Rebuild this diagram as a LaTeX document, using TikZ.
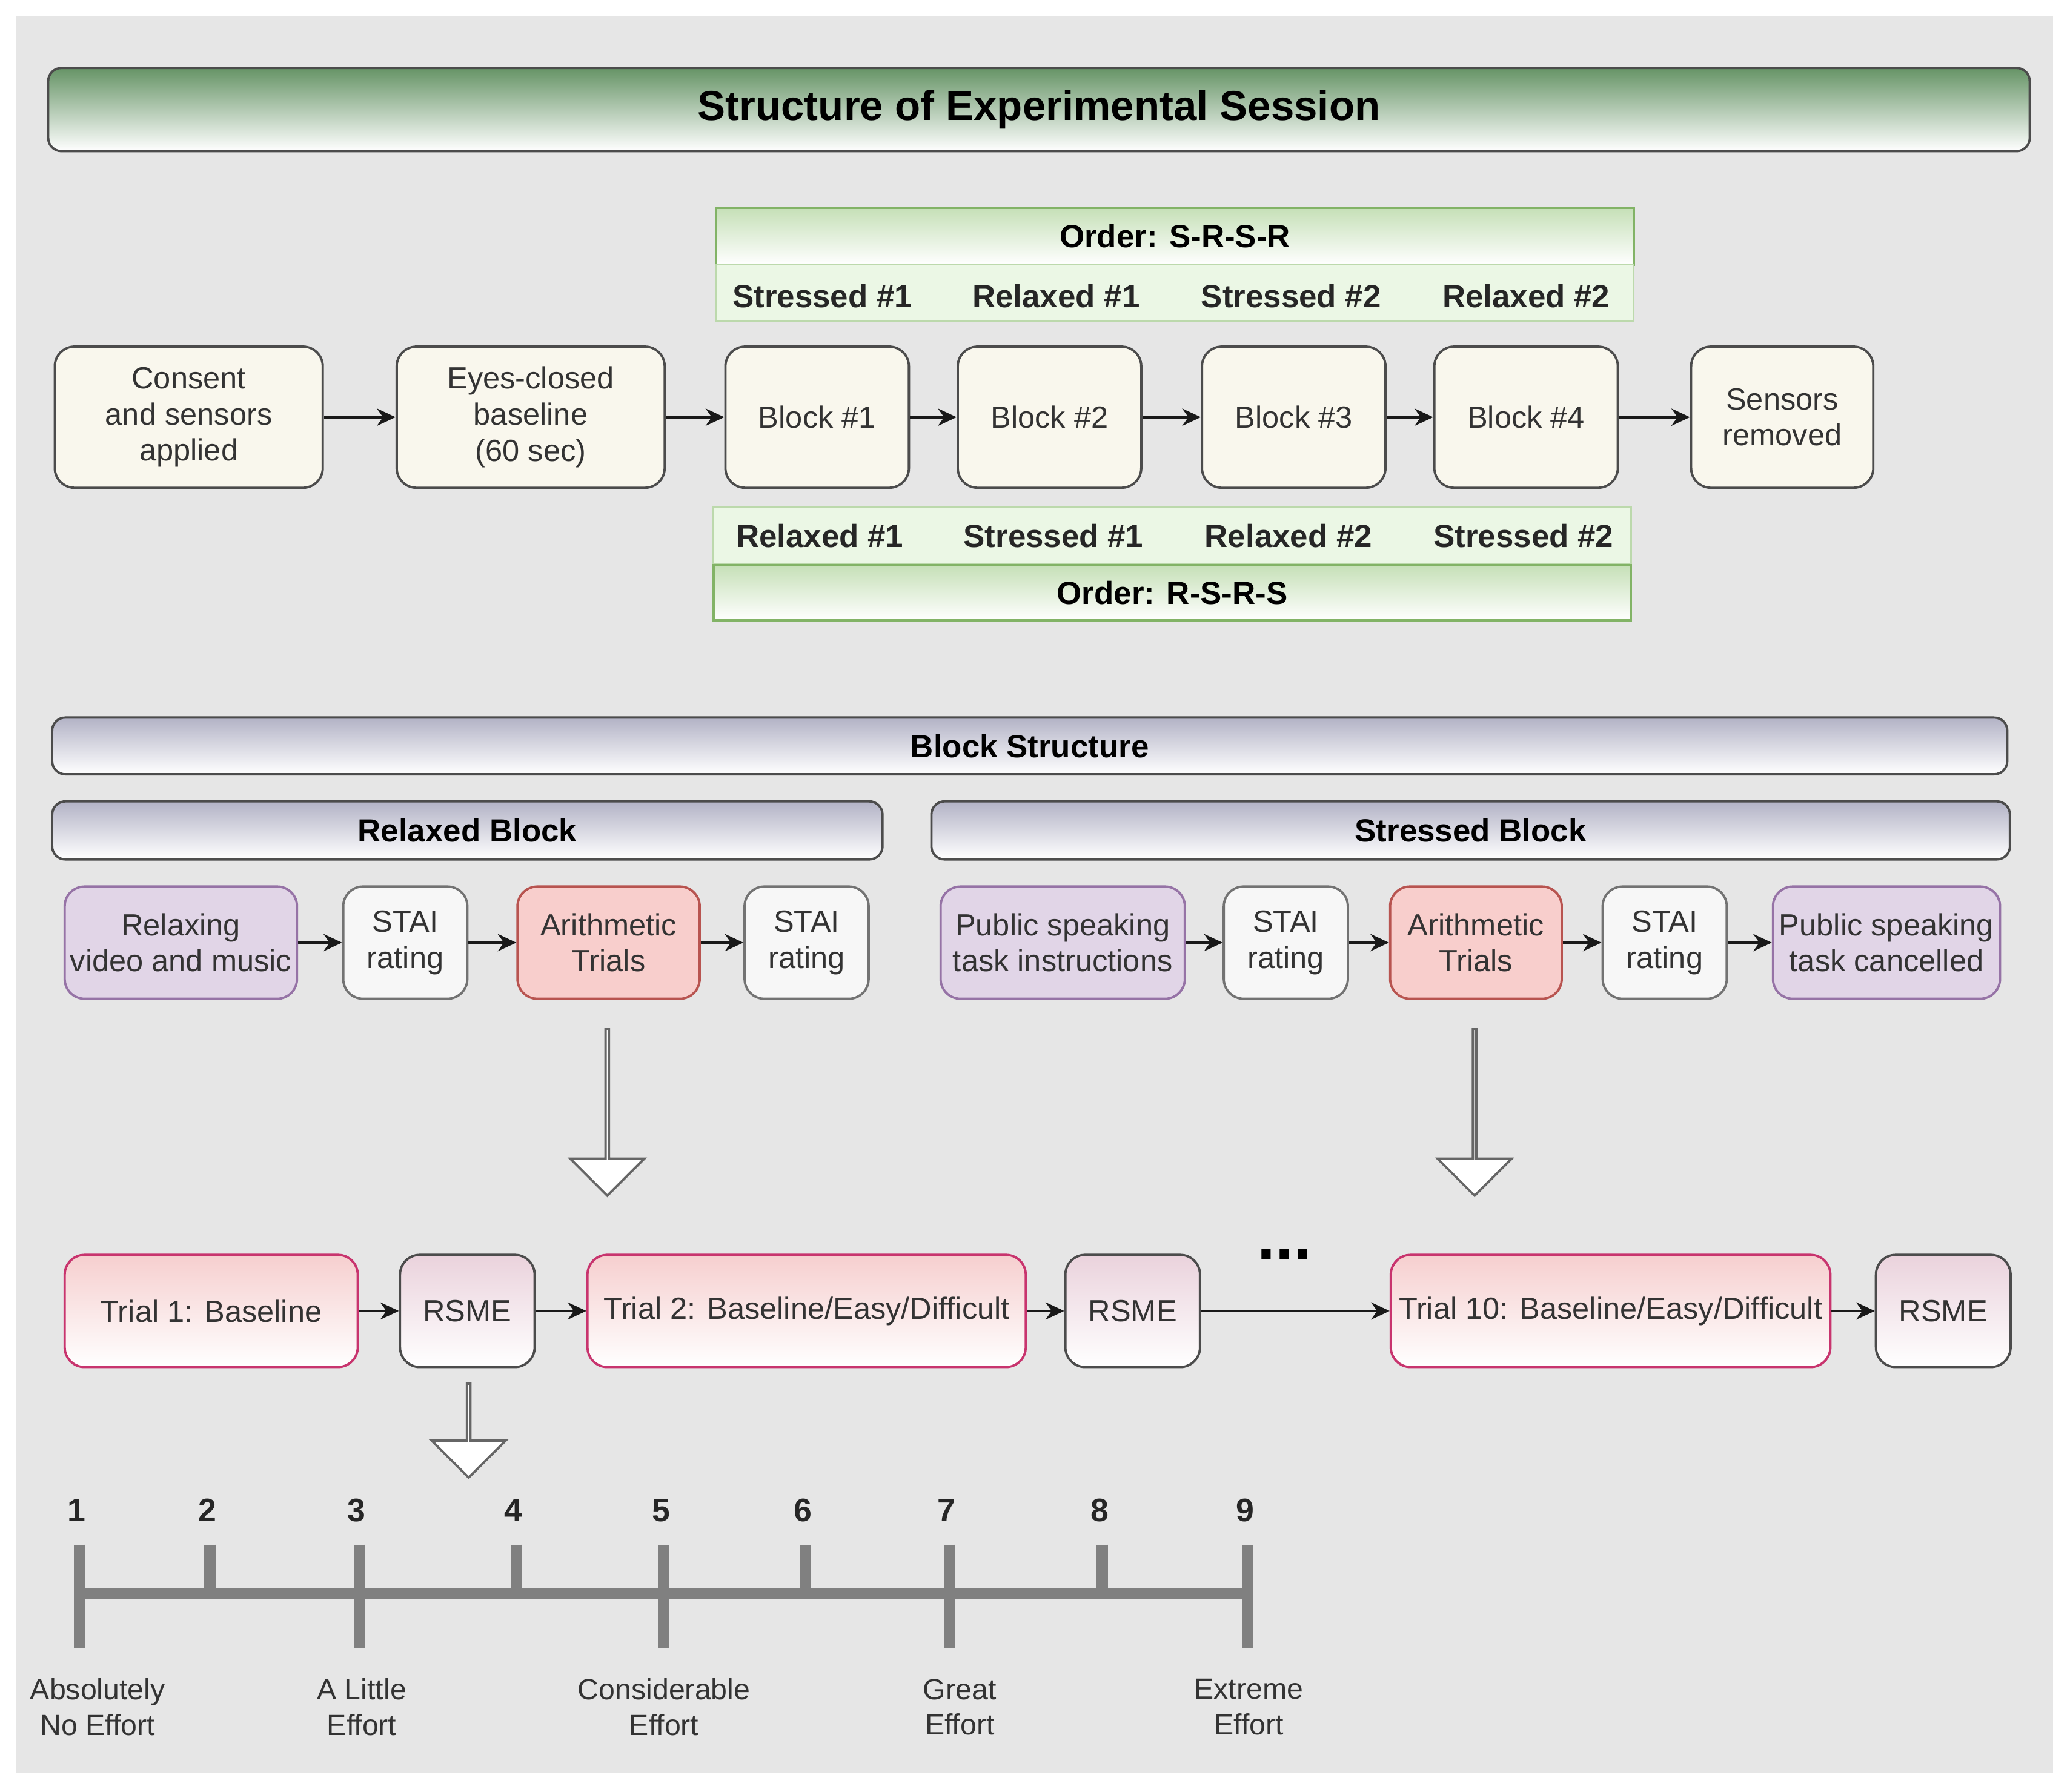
\documentclass[tikz,border=0pt]{standalone}
\usepackage{fontspec}
\setmainfont{Liberation Sans}
\usetikzlibrary{arrows.meta,shapes.arrows}
\definecolor{bg}{HTML}{E6E6E6}
\definecolor{cream}{HTML}{F9F7ED}
\definecolor{purp}{HTML}{E1D5E7}
\definecolor{purpb}{HTML}{9673A6}
\definecolor{redf}{HTML}{F8CECC}
\definecolor{redb}{HTML}{B85450}
\definecolor{lgreen}{HTML}{E3F3DA}
\definecolor{lgreenb}{HTML}{82B366}
\definecolor{crim}{HTML}{C8346E}
\begin{document}
\begin{tikzpicture}[x=0.01cm,y=-0.01cm,
 w/.style={minimum width=#1*0.01cm},
 h/.style={minimum height=#1*0.01cm},
 txt/.style={font=\fontsize{6.6pt}{7.8pt}\selectfont,text=black!80,align=center},
 bx/.style={txt,draw=black!70,rounded corners=1.5mm,line width=0.5pt,inner sep=0pt},
 stp/.style={bx,fill=cream},
 pur/.style={bx,fill=purp,draw=purpb},
 wht/.style={bx,fill=black!3,draw=black!55},
 ari/.style={bx,fill=redf,draw=redb},
 tri/.style={bx,draw=crim,top color=redf!90!purp,bottom color=white},
 rsm/.style={bx,draw=black!70,top color=purp!60!redf,bottom color=white},
 lab/.style={font=\bfseries\fontsize{6.9pt}{8pt}\selectfont,text=black!85},
 gbar/.style={draw=lgreenb,line width=0.5pt,top color=lgreen!70!lgreenb,bottom color=white,inner sep=0pt,font=\bfseries\fontsize{6.9pt}{8pt}\selectfont},
 bbar/.style={draw=black!70,line width=0.5pt,rounded corners=1mm,top color=blue!25!black!30,bottom color=white,inner sep=0pt,font=\bfseries\fontsize{6.9pt}{8pt}\selectfont},
 ar/.style={-{Stealth[length=1.4mm,width=1.3mm]},line width=0.6pt,black!90},
 hollow/.style={single arrow,draw=black!60,fill=white,shape border rotate=270,line width=0.5pt,inner sep=0pt},
 scl/.style={line width=2.4pt,black!50},
 num/.style={font=\bfseries\fontsize{7pt}{8pt}\selectfont,text=black!85},
 elab/.style={txt,font=\fontsize{6.3pt}{7.6pt}\selectfont}]
\useasboundingbox (0,0) rectangle (1568,1357);
\fill[bg] (12,12) rectangle (1555,1343);
% title
\node[draw=black!70,rounded corners=1mm,line width=0.5pt,top color=green!30!black!60,bottom color=white,w=1501,h=63,inner sep=0pt,font=\bfseries\fontsize{9pt}{10pt}\selectfont] (title) at (787,83) {Structure of Experimental Session};
% order boxes
\node[gbar,w=695,h=43] (o1) at (890,179) {Order: S-R-S-R};
\node[draw=lgreen!60!lgreenb,fill=lgreen!70,w=695,h=43,inner sep=0pt] (r1) at (890,222) {};
\node[lab] (l1) at (623,224) {Stressed \#1};
\node[lab] (l2) at (800,224) {Relaxed \#1};
\node[lab] (l3) at (978,224) {Stressed \#2};
\node[lab] (l4) at (1156,224) {Relaxed \#2};
\node[draw=lgreen!60!lgreenb,fill=lgreen!70,w=695,h=43,inner sep=0pt] (r2) at (888,406) {};
\node[lab] (m1) at (621,406) {Relaxed \#1};
\node[lab] (m2) at (798,406) {Stressed \#1};
\node[lab] (m3) at (976,406) {Relaxed \#2};
\node[lab] (m4) at (1154,406) {Stressed \#2};
\node[gbar,w=695,h=42] (o2) at (888,449) {Order: R-S-R-S};
% steps
\node[stp,w=203,h=107] (c) at (143,316) {Consent\\and sensors\\applied};
\node[stp,w=203,h=107] (e) at (402,316) {Eyes-closed\\baseline\\(60 sec)};
\node[stp,w=139,h=107] (b1) at (619,316) {Block \#1};
\node[stp,w=139,h=107] (b2) at (795,316) {Block \#2};
\node[stp,w=139,h=107] (b3) at (980,316) {Block \#3};
\node[stp,w=139,h=107] (b4) at (1156,316) {Block \#4};
\node[stp,w=138,h=107] (s) at (1350,316) {Sensors\\removed};
\foreach \a/\b in {c/e,e/b1,b1/b2,b2/b3,b3/b4,b4/s} \draw[ar] (\a) -- (\b);
% block structure
\node[bbar,w=1481,h=43] (bs) at (780,565) {Block Structure};
\node[bbar,w=629,h=44] (rb) at (354,629) {Relaxed Block};
\node[bbar,w=817,h=44] (sb) at (1114,629) {Stressed Block};
\node[pur,w=176,h=85] (rv) at (137,714) {Relaxing\\video and music};
\node[wht,w=94,h=85] (st1) at (307,714) {STAI\\rating};
\node[ari,w=138,h=85] (a1) at (461,714) {Arithmetic\\Trials};
\node[wht,w=94,h=85] (st2) at (611,714) {STAI\\rating};
\foreach \a/\b in {rv/st1,st1/a1,a1/st2} \draw[ar] (\a) -- (\b);
\node[pur,w=185,h=85] (pi) at (805,714) {Public speaking\\task instructions};
\node[wht,w=94,h=85] (st3) at (974,714) {STAI\\rating};
\node[ari,w=130,h=85] (a2) at (1118,714) {Arithmetic\\Trials};
\node[wht,w=94,h=85] (st4) at (1261,714) {STAI\\rating};
\node[pur,w=172,h=85] (pc) at (1429,714) {Public speaking\\task cancelled};
\foreach \a/\b in {pi/st3,st3/a2,a2/st4,st4/pc} \draw[ar] (\a) -- (\b);
% hollow arrows
\node[hollow,minimum height=1.26cm,minimum width=0.56cm,single arrow head extend=0.18cm] (h1) at (460,842) {};
\node[hollow,minimum height=1.26cm,minimum width=0.56cm,single arrow head extend=0.18cm] (h2) at (1117,842) {};
\node[hollow,minimum height=0.71cm,minimum width=0.56cm,single arrow head extend=0.18cm] (h3) at (355,1083) {};
% trials
\node[tri,w=222,h=85] (t1) at (160,993) {Trial 1: Baseline};
\node[rsm,w=102,h=85] (q1) at (354,993) {RSME};
\node[tri,w=332,h=85] (t2) at (611,993) {Trial 2: Baseline/Easy/Difficult};
\node[rsm,w=102,h=85] (q2) at (858,993) {RSME};
\node[tri,w=333,h=85] (t10) at (1220,993) {Trial 10: Baseline/Easy/Difficult};
\node[rsm,w=102,h=85] (q10) at (1472,993) {RSME};
\node[font=\bfseries\fontsize{14pt}{14pt}\selectfont] (dots) at (973,950) {...};
\foreach \a/\b in {t1/q1,q1/t2,t2/q2,q2/t10,t10/q10} \draw[ar] (\a) -- (\b);
% scale
\coordinate (sL) at (60,1207); \coordinate (sR) at (945,1207);
\draw[scl] (sL) -- (sR);
\foreach \n/\x/\maj in {1/60/1,2/159/0,3/272/1,4/391/0,5/503/1,6/610/0,7/719/1,8/835/0,9/945/1}{
  \ifnum\maj=1 \draw[scl] (\x,1170) -- (\x,1248); \else \draw[scl] (\x,1170) -- (\x,1207); \fi
  \node[num] (n\n) at (\x-2,1144) {\n};}
\node[elab] (e1) at (74,1293) {Absolutely\\No Effort};
\node[elab] (e3) at (274,1293) {A Little\\Effort};
\node[elab] (e5) at (503,1293) {Considerable\\Effort};
\node[elab] (e7) at (727,1293) {Great\\Effort};
\node[elab] (e9) at (946,1293) {Extreme\\Effort};
\end{tikzpicture}
\end{document}
